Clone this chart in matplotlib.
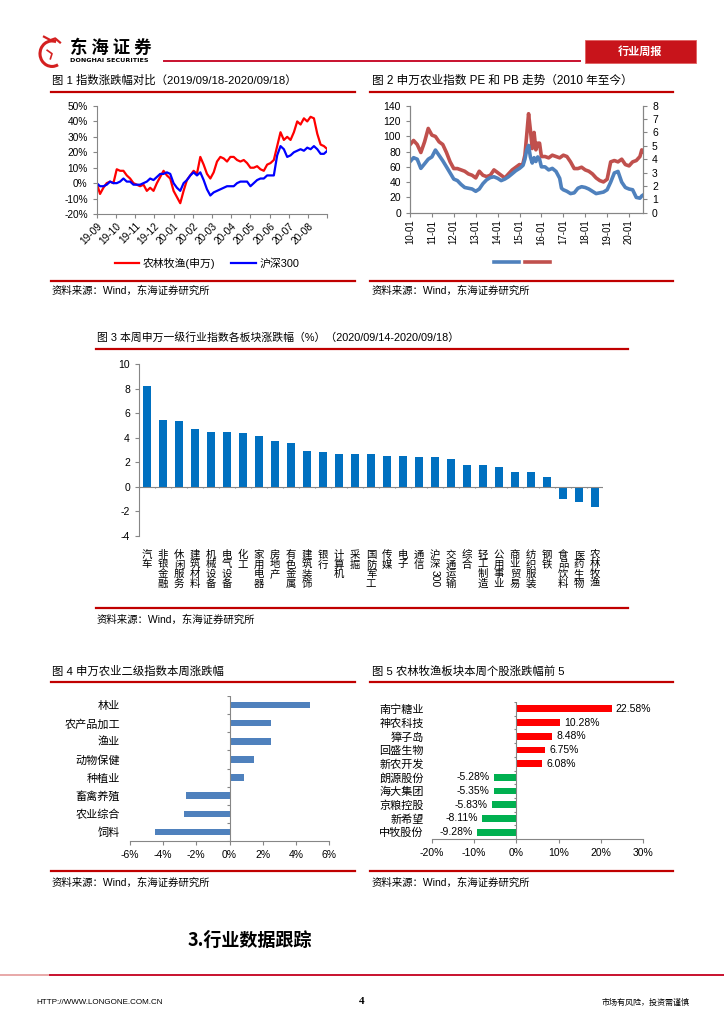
import matplotlib
matplotlib.use('Agg')
import matplotlib.pyplot as plt
import numpy as np
import pandas as pd
from matplotlib.patches import Rectangle, Arc
from matplotlib.lines import Line2D

plt.rcParams['font.family'] = ['Liberation Sans', 'Noto Sans CJK SC', 'DejaVu Sans']
plt.rcParams['axes.unicode_minus'] = False

# ---------------- data ----------------
f1_ticks = ['19-09', '19-10', '19-11', '19-12', '20-01', '20-02', '20-03',
            '20-04', '20-05', '20-06', '20-07', '20-08']
f1_agri = [0, -7, -3, 0, 1, 0, 9, 8, 8, 5, 3, 0, -1, -2, -1, -5, -3, -5, 0, 4,
           8, 5, 3, -5, -9, -13, -5, 2, 5, 8, 6, 17, 12, 6, 3, 7, 14, 17, 16, 14,
           17, 17, 15, 14, 15, 13, 10, 10, 11, 9, 8, 12, 13, 15, 24, 33, 28, 30, 28, 33,
           40, 38, 42, 40, 43, 42, 32, 25, 24, 22]
f1_hs300 = [0, -2, -2, -1, 1, 0, 0, 1, 3, 1, 1, -1, -1, -1, 0, 1, 3, 2, 4, 6,
            6, 7, 6, 0, -3, -5, 0, 2, 5, 7, 5, 7, 2, -4, -8, -6, -5, -4, -3, -2,
            -2, -2, 0, 1, 1, 1, -2, 0, 2, 3, 3, 5, 5, 5, 18, 24, 22, 17, 18, 20,
            21, 22, 21, 23, 22, 24, 22, 19, 19, 21]
f1_names = ['农林牧渔(申万)', '沪深300']

f2_dates = ['2010-01-04', '2010-03-01', '2010-05-01', '2010-07-01', '2010-09-01', '2010-11-01',
            '2011-01-01', '2011-03-01', '2011-05-01', '2011-07-01', '2011-09-01', '2011-11-01',
            '2012-01-01', '2012-03-01', '2012-05-01', '2012-07-01', '2012-09-01', '2012-11-01',
            '2013-01-01', '2013-03-01', '2013-05-01', '2013-07-01', '2013-09-01', '2013-11-01',
            '2014-01-01', '2014-03-01', '2014-05-01', '2014-07-01', '2014-09-01', '2014-11-01',
            '2015-01-01', '2015-02-01', '2015-03-01', '2015-04-01', '2015-05-01', '2015-06-01',
            '2015-07-01', '2015-08-01', '2015-09-01', '2015-10-01', '2015-11-01', '2015-12-01',
            '2016-01-01', '2016-03-01', '2016-05-01', '2016-07-01', '2016-09-01', '2016-11-01',
            '2016-12-01', '2017-01-01', '2017-03-01', '2017-05-01', '2017-07-01', '2017-09-01',
            '2017-11-01', '2018-01-01', '2018-03-01', '2018-05-01', '2018-07-01', '2018-09-01',
            '2018-11-01', '2019-01-01', '2019-03-01', '2019-05-01', '2019-07-01', '2019-09-01',
            '2019-11-01', '2020-01-01', '2020-03-01', '2020-05-01', '2020-07-01', '2020-08-01',
            '2020-08-21']
f2_pe = [67, 72, 70, 58, 64, 70, 73, 82, 75, 68, 60, 52, 44, 42, 37, 33, 32, 31,
         28, 31, 38, 43, 46, 47, 45, 42, 44, 47, 51, 55, 58, 60, 62, 70, 82, 88,
         73, 65, 72, 67, 73, 70, 60, 60, 56, 58, 54, 45, 32, 30, 28, 25, 26, 32,
         34, 33, 31, 28, 25, 26, 27, 30, 40, 52, 54, 40, 33, 31, 30, 20, 19, 22, 23]
f2_pb = [5.1, 5.4, 5.1, 4.5, 5.3, 6.3, 5.8, 5.7, 5.3, 5.1, 4.5, 3.8, 3.3, 3.3, 3.2, 3.1, 2.9, 2.8,
         2.6, 3.1, 2.8, 2.7, 2.8, 3.2, 3.0, 2.8, 2.6, 2.9, 3.2, 3.4, 3.6, 3.5, 3.7, 4.3, 5.8, 7.4,
         6.2, 4.8, 6.0, 4.7, 5.2, 5.2, 4.2, 4.2, 4.1, 4.3, 4.2, 4.1, 4.2, 4.3, 4.2, 3.8, 3.3, 3.3,
         3.4, 3.2, 3.1, 2.9, 2.6, 2.4, 2.3, 2.5, 3.8, 3.9, 3.8, 4.0, 3.6, 3.5, 3.8, 3.9, 4.2, 4.7, 4.6]
f2_ticks = ['10-01', '11-01', '12-01', '13-01', '14-01', '15-01', '16-01', '17-01',
            '18-01', '19-01', '20-01']

f3_names = ['汽车', '非银金融', '休闲服务', '建筑材料', '机械设备', '电气设备', '化工', '家用电器',
            '房地产', '有色金属', '建筑装饰', '银行', '计算机', '采掘', '国防军工', '传媒', '电子',
            '通信', '沪深300', '交通运输', '综合', '轻工制造', '公用事业', '商业贸易', '纺织服装',
            '钢铁', '食品饮料', '医药生物', '农林牧渔']
f3_vals = [8.2, 5.43, 5.37, 4.68, 4.47, 4.47, 4.42, 4.18, 3.73, 3.58, 2.92, 2.86, 2.69, 2.69,
           2.69, 2.53, 2.53, 2.42, 2.42, 2.26, 1.79, 1.79, 1.63, 1.22, 1.22, 0.84, -0.97, -1.22,
           -1.68]

f4_names = ['林业', '农产品加工', '渔业', '动物保健', '种植业', '畜禽养殖', '农业综合', '饲料']
f4_vals = [4.84, 2.48, 2.48, 1.5, 0.86, -2.6, -2.76, -4.5]

f5_names = ['南宁糖业', '神农科技', '獐子岛', '回盛生物', '新农开发', '朗源股份', '海大集团',
            '京粮控股', '新希望', '中牧股份']
f5_vals = [22.58, 10.28, 8.48, 6.75, 6.08, -5.28, -5.35, -5.83, -8.11, -9.28]

# ---------------- layout helpers ----------------
W, H = 724, 1024
fig = plt.figure(figsize=(W / 100, H / 100), dpi=100)
RED = '#C00000'
GRAY = '#868686'


def rect(x0, y0, x1, y1):
    return [x0 / W, 1 - y1 / H, (x1 - x0) / W, (y1 - y0) / H]


def ftext(x, y, s, **kw):
    kw.setdefault('va', 'center')
    fig.text(x / W, 1 - y / H, s, **kw)


def fline(x0, x1, y, color=RED, lw=1.6):
    fig.add_artist(Line2D([x0 / W, x1 / W], [1 - y / H, 1 - y / H], color=color, lw=lw))


def style_axes(ax):
    for s in ax.spines.values():
        s.set_color(GRAY)
        s.set_linewidth(0.8)
    ax.tick_params(colors=GRAY, labelcolor='black', labelsize=7, length=3, width=0.8)


SRC = '资料来源：Wind，东海证券研究所'

# ---------------- header ----------------
lax = fig.add_axes(rect(36, 35, 68, 69))
lax.set_xlim(0, 1)
lax.set_ylim(0, 1)
lax.axis('off')
lax.add_patch(Arc((0.5, 0.45), 0.75, 0.75, theta1=70, theta2=300, color='#D42020', lw=2.2))
lax.plot([0.25, 0.45, 0.6, 0.75], [0.95, 0.85, 0.9, 0.78], color='#D42020', lw=1.6)
lax.plot([0.35, 0.5, 0.45], [0.55, 0.45, 0.3], color='#D42020', lw=1.2)
ftext(70, 48, '东 海 证 券', fontsize=12.5, fontweight='bold', color='black',
      family=['Noto Sans CJK SC'])
ftext(70, 61, 'DONGHAI SECURITIES', fontsize=4.6, fontweight='bold', color='black',
      family=['DejaVu Sans'])
fline(164, 580, 61, color='#C8102E', lw=1.4)
fig.add_artist(Rectangle((585 / W, 1 - 63 / H), (696 - 585) / W, (63 - 40) / H,
                         transform=fig.transFigure, facecolor='#C8141B', edgecolor='#E06060', lw=0.6))
ftext(640, 51.5, '行业周报', fontsize=8, fontweight='bold', color='white', ha='center',
      family=['Noto Sans CJK SC'])

# ---------------- Figure 1 ----------------
ftext(52, 80.5, '图 1 指数涨跌幅对比（2019/09/18-2020/09/18）', fontsize=8.2)
fline(51, 355, 91.5)
ax1 = fig.add_axes(rect(96.7, 106, 327.3, 214))
x1 = np.arange(len(f1_agri))
la, = ax1.plot(x1, f1_agri, color='#FF0000', lw=1.6, label=f1_names[0])
lb, = ax1.plot(x1, f1_hs300, color='#0000FF', lw=1.6, label=f1_names[1])
ax1.set_xlim(0, len(f1_agri) - 1)
ax1.set_ylim(-20, 50)
ax1.set_yticks(np.arange(-20, 51, 10))
ax1.set_yticklabels([f'{v}%' for v in range(-20, 51, 10)])
tpos = np.linspace(0, len(f1_agri) - 1, len(f1_ticks) + 1)
ax1.set_xticks(tpos)
ax1.set_xticklabels(f1_ticks + [''], rotation=45, ha='right', rotation_mode='anchor')
ax1.spines['top'].set_visible(False)
ax1.spines['right'].set_visible(False)
style_axes(ax1)
ax1.tick_params(axis='x', labelsize=7.3, pad=2)
ax1.tick_params(axis='y', labelsize=7.3)
fig.legend(handles=[la, lb], loc='center', bbox_to_anchor=(207 / W, 1 - 263 / H), ncol=2,
           frameon=False, fontsize=7.8, handlelength=2.3, columnspacing=1.5, handletextpad=0.3)
fline(51, 355, 280.5)
ftext(52, 291, SRC, fontsize=7.5)

# ---------------- Figure 2 ----------------
ftext(372, 80.5, '图 2 申万农业指数 PE 和 PB 走势（2010 年至今）', fontsize=8.4)
fline(370, 673, 91.5)
ax2 = fig.add_axes(rect(410, 105.7, 643, 212.7))
d2 = pd.to_datetime(f2_dates)
lpe, = ax2.plot(d2, f2_pe, color='#4F81BD', lw=2.6, label=' ')
ax2b = ax2.twinx()
lpb, = ax2b.plot(d2, f2_pb, color='#C0504D', lw=2.6, label=' ')
ax2.set_zorder(ax2b.get_zorder() + 1)
ax2.patch.set_visible(False)
ax2.set_xlim(d2[0], d2[-1])
ax2.set_ylim(0, 140)
ax2.set_yticks(np.arange(0, 141, 20))
ax2b.set_ylim(0, 8)
ax2b.set_yticks(np.arange(0, 9, 1))
ax2.set_xticks(pd.to_datetime([f'20{t[:2]}-01-01' for t in f2_ticks]))
ax2.set_xticklabels(f2_ticks, rotation=90)
for a in (ax2, ax2b):
    a.spines['top'].set_visible(False)
    style_axes(a)
    a.tick_params(labelsize=7.5)
ax2.tick_params(axis='x', labelsize=7, pad=2)
fig.legend(handles=[lpe, lpb], labels=['', ''], loc='center', bbox_to_anchor=(522 / W, 1 - 263 / H),
           ncol=2, frameon=False, fontsize=7.5, handlelength=2.4, columnspacing=0.6, handletextpad=0)
fline(370, 673, 280.5)
ftext(372, 291, SRC, fontsize=7.5)

# ---------------- Figure 3 ----------------
ftext(97, 338, '图 3 本周申万一级行业指数各板块涨跌幅（%）（2020/09/14-2020/09/18）', fontsize=7.8)
fline(96, 628, 348.5)
ax3 = fig.add_axes(rect(139, 364, 603, 536))
x3 = np.arange(len(f3_vals))
ax3.bar(x3, f3_vals, width=0.45, color='#0070C0')
ax3.set_xlim(-0.5, len(f3_vals) - 0.5)
ax3.set_ylim(-4, 10)
ax3.set_yticks(np.arange(-4, 11, 2))
ax3.axhline(0, color=GRAY, lw=0.8)
ax3.vlines(np.arange(len(f3_vals) + 1) - 0.5, -0.13, 0, color=GRAY, lw=0.8)
for s in ['top', 'right', 'bottom']:
    ax3.spines[s].set_visible(False)
style_axes(ax3)
ax3.tick_params(axis='y', labelsize=7.5)
lab3 = []
for n in f3_names:
    if n == '沪深300':
        lab3.append('沪\n深')
    else:
        lab3.append('\n'.join(list(n)))
ax3.set_xticks(x3)
ax3.set_xticklabels(lab3, fontsize=7.5, linespacing=0.95, va='top')
ax3.tick_params(axis='x', length=0, pad=10)
i300 = f3_names.index('沪深300')
ax3.annotate('300', xy=(i300, 0), xycoords=('data', 'axes fraction'), xytext=(0, -24.5),
             textcoords='offset points', rotation=-90, ha='center', va='top', fontsize=7.5)
fline(96, 628, 607.5)
ftext(97, 619.5, SRC, fontsize=7.5)

# ---------------- Figure 4 ----------------
ftext(52, 671, '图 4 申万农业二级指数本周涨跌幅', fontsize=8.2)
fline(51, 355, 681.5)
ax4 = fig.add_axes(rect(130, 696, 329, 841))
y4 = np.arange(len(f4_vals))
ax4.barh(y4, f4_vals, height=0.36, color='#4F81BD')
ax4.set_ylim(len(f4_vals) - 0.5, -0.5)
ax4.set_xlim(-6, 6)
ax4.set_xticks(np.arange(-6, 7, 2))
ax4.set_xticklabels([f'{v}%' for v in range(-6, 7, 2)])
ax4.axvline(0, color=GRAY, lw=0.8)
ax4.hlines(np.arange(len(f4_vals) + 1) - 0.5, -0.15, 0, color=GRAY, lw=0.8)
for s in ['top', 'right', 'left']:
    ax4.spines[s].set_visible(False)
style_axes(ax4)
ax4.set_yticks(y4)
ax4.set_yticklabels(f4_names, fontsize=8)
ax4.tick_params(axis='y', length=0, pad=7)
ax4.tick_params(axis='x', labelsize=7.5)
fline(51, 355, 871)
ftext(52, 883, SRC, fontsize=7.5)

# ---------------- Figure 5 ----------------
ftext(372, 671, '图 5 农林牧渔板块本周个股涨跌幅前 5', fontsize=8.2)
fline(370, 673, 681.5)
ax5 = fig.add_axes(rect(432, 702, 643, 839))
y5 = np.arange(len(f5_vals))
cols5 = ['#FF0000' if v > 0 else '#00B050' for v in f5_vals]
bars5 = ax5.barh(y5, f5_vals, height=0.5, color=cols5)
ax5.bar_label(bars5, labels=[f'{v:.2f}%' for v in f5_vals], padding=3, fontsize=7.5)
ax5.set_ylim(len(f5_vals) - 0.5, -0.5)
ax5.set_xlim(-20, 30)
ax5.set_xticks(np.arange(-20, 31, 10))
ax5.set_xticklabels([f'{v}%' for v in range(-20, 31, 10)])
ax5.axvline(0, color=GRAY, lw=0.8)
ax5.hlines(np.arange(len(f5_vals) + 1) - 0.5, -0.5, 0, color=GRAY, lw=0.8)
for s in ['top', 'right', 'left']:
    ax5.spines[s].set_visible(False)
style_axes(ax5)
ax5.set_yticks(y5)
ax5.set_yticklabels(f5_names, fontsize=8)
ax5.tick_params(axis='y', length=0, pad=6)
ax5.tick_params(axis='x', labelsize=7.5)
fline(370, 673, 871)
ftext(372, 883, SRC, fontsize=7.5)

# ---------------- footer ----------------
ftext(188, 940, '3.行业数据跟踪', fontsize=13, fontweight='bold', family=['Noto Sans CJK SC'])
fline(0, 50, 975, color='#E8A8A8', lw=1.4)
fline(50, 724, 975, color='#C8102E', lw=1.4)
ftext(36, 1003, 'HTTP://WWW.LONGONE.COM.CN', fontsize=5.8)
ftext(362, 1002, '4', fontsize=8, fontweight='bold', ha='center', family=['Liberation Serif'])
ftext(690, 1003, '市场有风险，投资需谨慎', fontsize=5.8, ha='right')

fig.savefig('out.png', dpi=100)
